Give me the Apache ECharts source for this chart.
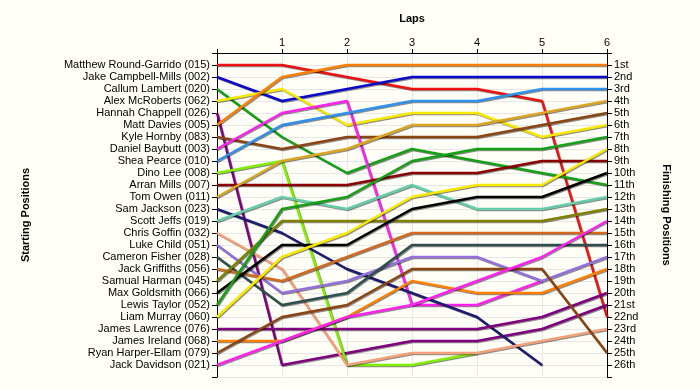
<!DOCTYPE html>
<html>
<head>
<meta charset="utf-8">
<script src="https://cdn.jsdelivr.net/npm/echarts@6/dist/echarts.min.js"></script>
<style>
html,body{margin:0;padding:0;background:#fffff7;}
#chart{width:700px;height:390px;}
</style>
</head>
<body>
<div id="chart"></div>
<script>
// Laps (x values) and their tick labels
const laps = [0, 1, 2, 3, 4, 5, 6];
const lapLabels = ['', '1', '2', '3', '4', '5', '6'];

// Drivers in starting order (left axis)
const drivers = [
  'Matthew Round-Garrido (015)', 'Jake Campbell-Mills (002)', 'Callum Lambert (020)',
  'Alex McRoberts (062)', 'Hannah Chappell (026)', 'Matt Davies (005)', 'Kyle Hornby (083)',
  'Daniel Baybutt (003)', 'Shea Pearce (010)', 'Dino Lee (008)', 'Arran Mills (007)',
  'Tom Owen (011)', 'Sam Jackson (023)', 'Scott Jeffs (019)', 'Chris Goffin (032)',
  'Luke Child (051)', 'Cameron Fisher (028)', 'Jack Griffiths (056)', 'Samual Harman (045)',
  'Max Goldsmith (066)', 'Lewis Taylor (052)', 'Liam Murray (060)', 'James Lawrence (076)',
  'James Ireland (068)', 'Ryan Harper-Ellam (079)', 'Jack Davidson (021)'
];

// Finishing position labels (right axis)
const finishLabels = ['1st','2nd','3rd','4th','5th','6th','7th','8th','9th','10th','11th','12th','13th',
  '14th','15th','16th','17th','18th','19th','20th','21st','22nd','23rd','24th','25th','26th'];

// Position of each driver at each lap (lap 0 = start)
const pos015 = [1, 1, 2, 3, 3, 4, 22];
const pos002 = [2, 4, 3, 2, 2, 2, 2];
const pos020 = [3, 7, 10, 8, 9, 10, 11];
const pos062 = [4, 3, 6, 5, 5, 7, 6];
const pos026 = [5, 26, 25, 24, 24, 23, 21];
const pos005 = [6, 2, 1, 1, 1, 1, 1];
const pos083 = [7, 8, 7, 7, 7, 6, 5];
const pos003 = [8, 5, 4, 21, 21, 19];
const pos010 = [9, 6, 5, 4, 4, 3, 3];
const pos008 = [10, 9, 26, 26, 25];
const pos007 = [11, 11, 11, 10, 10, 9, 9];
const pos011 = [12, 9, 8, 6, 6, 5, 4];
const pos023 = [13, 15, 18, 20, 22, 26];
const pos019 = [14, 12, 13, 11, 13, 13, 12];
const pos032 = [15, 18, 26, 25, 25, 24, 23];
const pos051 = [16, 20, 19, 17, 17, 19, 17];
const pos028 = [17, 21, 20, 16, 16, 16, 16];
const pos056 = [18, 19, 17, 15, 15, 15, 15];
const pos045 = [19, 14, 14, 14, 14, 14, 13];
const pos066 = [20, 16, 16, 13, 12, 12, 10];
const pos052 = [21, 13, 12, 9, 8, 8, 7];
const pos060 = [22, 17, 15, 12, 11, 11, 8];
const pos076 = [23, 23, 23, 23, 23, 22, 20];
const pos068 = [24, 24, 22, 19, 20, 20, 18];
const pos079 = [25, 22, 21, 18, 18, 18, 25];
const pos021 = [26, 24, 22, 21, 19, 17, 14];

const positions = [pos015, pos002, pos020, pos062, pos026, pos005, pos083, pos003, pos010, pos008,
  pos007, pos011, pos023, pos019, pos032, pos051, pos028, pos056, pos045, pos066, pos052, pos060,
  pos076, pos068, pos079, pos021];

const colors = ['#ee1111', '#0a0acc', '#16a016', '#f8e800', '#800080', '#ff8000', '#8b4513',
  '#ff22ee', '#2f90ee', '#80f000', '#8b0000', '#daa520', '#1c1c70', '#66cdaa', '#f4a07a',
  '#9370db', '#2f4f4f', '#d2691e', '#808000', '#000000', '#16a016', '#f8e800', '#800080',
  '#ff8000', '#8b4513', '#ff22ee'];

const series = drivers.map((name, i) => ({
  name: name,
  type: 'line',
  symbol: 'none',
  silent: true,
  data: positions[i].map((p, k) => [laps[k], p]),
  lineStyle: {
    color: colors[i], width: 2.5,
    shadowColor: 'rgba(0,0,0,0.45)', shadowBlur: 0, shadowOffsetX: 1, shadowOffsetY: 1
  },
  itemStyle: { color: colors[i] }
}));

const font = 'Liberation Sans, Arial, sans-serif';
const gridLine = { show: true, lineStyle: { color: '#e6e6e6', width: 1 } };

const chart = echarts.init(document.getElementById('chart'), null, { renderer: 'canvas' });
chart.setOption({
  animation: false,
  backgroundColor: '#fffff7',
  grid: { left: 217, right: 93, top: 53, bottom: 13, containLabel: false },
  xAxis: {
    type: 'value', position: 'top', min: 0, max: 6, interval: 1,
    name: 'Laps', nameLocation: 'middle', nameGap: 29,
    nameTextStyle: { fontFamily: font, fontSize: 11, fontWeight: 'bold', color: '#000' },
    axisLine: { show: true, lineStyle: { color: '#000', width: 1 } },
    axisTick: { show: true, length: 4, lineStyle: { color: '#000' } },
    axisLabel: { fontFamily: font, fontSize: 11, color: '#000', margin: 5,
      formatter: v => lapLabels[laps.indexOf(v)] || '' },
    splitLine: gridLine
  },
  yAxis: [
    {
      type: 'value', position: 'left', min: 0, max: 27, interval: 1, inverse: true,
      name: 'Starting Positions', nameLocation: 'middle', nameGap: 186, nameRotate: 90,
      nameTextStyle: { fontFamily: font, fontSize: 11, fontWeight: 'bold', color: '#000' },
      axisLine: { show: true, lineStyle: { color: '#000', width: 1 } },
      axisTick: { show: true, length: 5, lineStyle: { color: '#000' } },
      axisLabel: { fontFamily: font, fontSize: 11, color: '#000', margin: 7,
        formatter: v => (v >= 1 && v <= drivers.length) ? drivers[v - 1] : '' },
      splitLine: gridLine
    },
    {
      type: 'value', position: 'right', min: 0, max: 27, interval: 1, inverse: true,
      name: 'Finishing Positions', nameLocation: 'middle', nameGap: 54, nameRotate: -90,
      nameTextStyle: { fontFamily: font, fontSize: 11, fontWeight: 'bold', color: '#000' },
      axisLine: { show: true, lineStyle: { color: '#000', width: 1 } },
      axisTick: { show: true, length: 5, lineStyle: { color: '#000' } },
      axisLabel: { fontFamily: font, fontSize: 11, color: '#000', margin: 7,
        formatter: v => (v >= 1 && v <= finishLabels.length) ? finishLabels[v - 1] : '' },
      splitLine: { show: false }
    }
  ],
  series: series
});
</script>
</body>
</html>
